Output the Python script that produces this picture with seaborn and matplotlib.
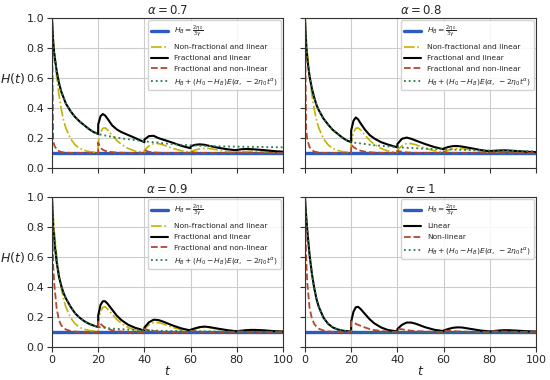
"""
H(t) for four fractional orders alpha, with repeated impulses at t = 20, 40, 60, 80.
Values read off the reference figure on a shared t grid.
"""

import numpy as np
import matplotlib
matplotlib.use("Agg")
import matplotlib.pyplot as plt
import seaborn as sns

# shared time grid (20.01 etc. mark the jump just after each impulse)
t = [0, 0.5, 1, 2, 3, 4, 5, 6, 8, 10, 12, 14, 16, 18, 20,
     20.01, 21, 22, 23, 24, 26, 28, 30, 33, 36, 40,
     40.01, 42, 44, 46, 48, 52, 56, 60,
     60.01, 62, 64, 66, 68, 72, 76, 80,
     80.01, 82, 84, 86, 88, 92, 96, 100]

H_B = 0.1

# non-fractional linear model (also the "Linear" curve for alpha = 1)
lin_nonfrac = [1.0, 0.878, 0.78, 0.614, 0.49, 0.394, 0.32, 0.267, 0.196, 0.155, 0.131, 0.118, 0.110, 0.106, 0.103,
               0.17, 0.235, 0.265, 0.268, 0.255, 0.22, 0.185, 0.158, 0.13, 0.113, 0.104,
               0.12, 0.148, 0.163, 0.163, 0.155, 0.132, 0.115, 0.106,
               0.11, 0.12, 0.128, 0.131, 0.13, 0.12, 0.11, 0.104,
               0.104, 0.107, 0.11, 0.112, 0.112, 0.109, 0.105, 0.103]

# Mittag-Leffler relaxation H_B + (H_0 - H_B) E(alpha, -2 eta_0 t^alpha)
ml_07 = [1.0, 0.84, 0.76, 0.65, 0.57, 0.51, 0.47, 0.43, 0.38, 0.34, 0.31, 0.285, 0.26, 0.24, 0.227,
         0.227, 0.224, 0.22, 0.217, 0.214, 0.208, 0.203, 0.198, 0.192, 0.186, 0.178,
         0.178, 0.175, 0.172, 0.17, 0.165, 0.16, 0.155, 0.151,
         0.151, 0.15, 0.149, 0.148, 0.147, 0.145, 0.144, 0.143,
         0.143, 0.142, 0.142, 0.141, 0.141, 0.14, 0.139, 0.138]
ml_08 = [1.0, 0.82, 0.73, 0.61, 0.53, 0.47, 0.42, 0.385, 0.33, 0.29, 0.255, 0.23, 0.205, 0.185, 0.172,
         0.172, 0.17, 0.168, 0.166, 0.164, 0.16, 0.156, 0.152, 0.148, 0.144, 0.139,
         0.139, 0.137, 0.135, 0.134, 0.132, 0.129, 0.127, 0.125,
         0.125, 0.124, 0.123, 0.122, 0.121, 0.12, 0.118, 0.117,
         0.117, 0.116, 0.116, 0.115, 0.115, 0.114, 0.113, 0.112]
ml_09 = [1.0, 0.8, 0.71, 0.57, 0.47, 0.41, 0.36, 0.325, 0.27, 0.225, 0.195, 0.172, 0.155, 0.143, 0.133,
         0.133, 0.131, 0.129, 0.128, 0.126, 0.123, 0.121, 0.119, 0.116, 0.114, 0.112,
         0.112, 0.111, 0.11, 0.109, 0.108, 0.107, 0.106, 0.105,
         0.105, 0.105, 0.104, 0.104, 0.104, 0.103, 0.103, 0.103,
         0.103, 0.103, 0.102, 0.102, 0.102, 0.102, 0.102, 0.102]
ml_10 = [1.0, 0.878, 0.78, 0.614, 0.49, 0.394, 0.32, 0.267, 0.196, 0.155, 0.131, 0.118, 0.110, 0.106, 0.103,
         0.103, 0.102, 0.102, 0.101, 0.101, 0.101, 0.1, 0.1, 0.1, 0.1, 0.1,
         0.1, 0.1, 0.1, 0.1, 0.1, 0.1, 0.1, 0.1,
         0.1, 0.1, 0.1, 0.1, 0.1, 0.1, 0.1, 0.1,
         0.1, 0.1, 0.1, 0.1, 0.1, 0.1, 0.1, 0.1]

# fractional linear model
frac_lin_07 = ml_07[:15] + [
    0.29, 0.345, 0.36, 0.35, 0.33, 0.285, 0.258, 0.24, 0.22, 0.2, 0.172,
    0.19, 0.213, 0.215, 0.2, 0.19, 0.17, 0.148, 0.132,
    0.145, 0.155, 0.158, 0.155, 0.148, 0.135, 0.125, 0.118,
    0.121, 0.125, 0.127, 0.126, 0.124, 0.119, 0.113, 0.109]
frac_lin_08 = ml_08[:15] + [
    0.25, 0.315, 0.337, 0.325, 0.3, 0.255, 0.22, 0.197, 0.172, 0.156, 0.138,
    0.16, 0.195, 0.203, 0.195, 0.183, 0.16, 0.14, 0.125,
    0.13, 0.14, 0.146, 0.147, 0.143, 0.132, 0.12, 0.112,
    0.113, 0.115, 0.117, 0.118, 0.117, 0.113, 0.109, 0.106]
frac_lin_09 = ml_09[:15] + [
    0.21, 0.28, 0.305, 0.305, 0.29, 0.25, 0.21, 0.18, 0.148, 0.128, 0.11,
    0.13, 0.165, 0.182, 0.18, 0.17, 0.145, 0.124, 0.11,
    0.115, 0.125, 0.133, 0.136, 0.133, 0.122, 0.112, 0.105,
    0.106, 0.109, 0.112, 0.114, 0.114, 0.111, 0.106, 0.103]

# fractional non-linear model
frac_nl_07 = [1.0, 0.19, 0.15, 0.125, 0.113, 0.107, 0.104, 0.102, 0.101, 0.1, 0.1, 0.1, 0.1, 0.1, 0.1,
              0.17, 0.135, 0.122, 0.115, 0.11, 0.106, 0.103, 0.102, 0.101, 0.1, 0.1,
              0.12, 0.108, 0.104, 0.102, 0.101, 0.1, 0.1, 0.1,
              0.108, 0.103, 0.101, 0.1, 0.1, 0.1, 0.1, 0.1,
              0.105, 0.102, 0.101, 0.1, 0.1, 0.1, 0.1, 0.1]
frac_nl_08 = [1.0, 0.26, 0.19, 0.14, 0.12, 0.11, 0.106, 0.103, 0.101, 0.1, 0.1, 0.1, 0.1, 0.1, 0.1,
              0.155, 0.14, 0.13, 0.122, 0.116, 0.109, 0.105, 0.103, 0.101, 0.1, 0.1,
              0.115, 0.108, 0.104, 0.102, 0.101, 0.1, 0.1, 0.1,
              0.107, 0.103, 0.101, 0.1, 0.1, 0.1, 0.1, 0.1,
              0.104, 0.102, 0.1, 0.1, 0.1, 0.1, 0.1, 0.1]
frac_nl_09 = [1.0, 0.55, 0.42, 0.26, 0.18, 0.145, 0.127, 0.117, 0.107, 0.103, 0.101, 0.1, 0.1, 0.1, 0.1,
              0.17, 0.155, 0.14, 0.13, 0.122, 0.112, 0.106, 0.103, 0.101, 0.1, 0.1,
              0.12, 0.112, 0.106, 0.103, 0.101, 0.1, 0.1, 0.1,
              0.108, 0.105, 0.102, 0.101, 0.1, 0.1, 0.1, 0.1,
              0.105, 0.103, 0.101, 0.1, 0.1, 0.1, 0.1, 0.1]
nonlin_10 = [1.0, 0.6, 0.43, 0.26, 0.19, 0.155, 0.135, 0.122, 0.11, 0.104, 0.102, 0.101, 0.1, 0.1, 0.1,
             0.17, 0.162, 0.155, 0.148, 0.142, 0.13, 0.12, 0.113, 0.107, 0.103, 0.101,
             0.122, 0.118, 0.113, 0.109, 0.106, 0.103, 0.101, 0.1,
             0.11, 0.108, 0.106, 0.104, 0.103, 0.101, 0.1, 0.1,
             0.106, 0.105, 0.104, 0.103, 0.102, 0.101, 0.1, 0.1]

alphas = ["0.7", "0.8", "0.9", "1"]

C_BLUE = "#2c5bbf"
C_YEL = "#c2b400"
C_BLACK = "black"
C_RED = "#b5472a"
C_GREEN = "#2a7a4a"

LBL_HB = r"$H_B=\frac{2\eta_0}{3\gamma}$"
LBL_ML = r"$H_B+(H_0-H_B)E(\alpha,\,-2\eta_0t^{\alpha})$"

sns.set_style("ticks")
plt.rcParams["font.family"] = ["DejaVu Sans"]
plt.rcParams["mathtext.fontset"] = "dejavusans"

fig, axes = plt.subplots(2, 2, figsize=(5.5, 3.8), dpi=100, sharex=True, sharey=True)
fig.subplots_adjust(left=0.0945, right=0.9745, top=0.9526, bottom=0.0868,
                    wspace=0.095, hspace=0.193)

panels = [
    (axes[0, 0], "0.7", ml_07, frac_lin_07, frac_nl_07),
    (axes[0, 1], "0.8", ml_08, frac_lin_08, frac_nl_08),
    (axes[1, 0], "0.9", ml_09, frac_lin_09, frac_nl_09),
]

hb_line = [H_B] * len(t)

for ax, a, ml, flin, fnl in panels:
    sns.lineplot(x=t, y=hb_line, ax=ax, color=C_BLUE, lw=2.4, label=LBL_HB)
    sns.lineplot(x=t, y=lin_nonfrac, ax=ax, color=C_YEL, lw=1.2, ls="-.",
                 label="Non-fractional and linear")
    sns.lineplot(x=t, y=flin, ax=ax, color=C_BLACK, lw=1.5, label="Fractional and linear")
    sns.lineplot(x=t, y=fnl, ax=ax, color=C_RED, lw=1.3, ls="--",
                 label="Fractional and non-linear")
    sns.lineplot(x=t, y=ml, ax=ax, color=C_GREEN, lw=1.3, ls=":", label=LBL_ML)

ax = axes[1, 1]
sns.lineplot(x=t, y=hb_line, ax=ax, color=C_BLUE, lw=2.4, label=LBL_HB)
sns.lineplot(x=t, y=lin_nonfrac, ax=ax, color=C_BLACK, lw=1.5, label="Linear")
sns.lineplot(x=t, y=nonlin_10, ax=ax, color=C_RED, lw=1.3, ls="--", label="Non-linear")
sns.lineplot(x=t, y=ml_10, ax=ax, color=C_GREEN, lw=1.3, ls=":", label=LBL_ML)

for ax, a in zip(axes.flat, alphas):
    ax.set_xlim(0, 100)
    ax.set_ylim(0, 1)
    ax.set_xticks(np.arange(0, 101, 20))
    ax.set_yticks(np.arange(0, 1.01, 0.2))
    ax.grid(True, color="#cccccc", lw=0.8)
    ax.set_axisbelow(True)
    for s in ax.spines.values():
        s.set_visible(True)
        s.set_color("#333333")
        s.set_linewidth(0.8)
    ax.tick_params(labelsize=8, length=3.5, width=0.8, color="#333333", pad=2)
    ax.set_title(r"$\alpha = %s$" % a, fontsize=8.5, pad=3)
    ax.set_xlabel("")
    ax.set_ylabel("")
    ax.legend(loc="upper right", fontsize=5.4, borderaxespad=0.3, handlelength=2.2,
              labelspacing=0.6, framealpha=0.85, edgecolor="#cccccc", fancybox=True)

for ax in axes[:, 0]:
    ax.set_ylabel(r"$H(t)$", fontsize=9, rotation=0, ha="right", va="center")
    ax.yaxis.set_label_coords(-0.115, 0.6)
for ax in axes[1, :]:
    ax.set_xlabel(r"$t$", fontsize=9, labelpad=0)

plt.savefig("out.png", dpi=100)
plt.close()
